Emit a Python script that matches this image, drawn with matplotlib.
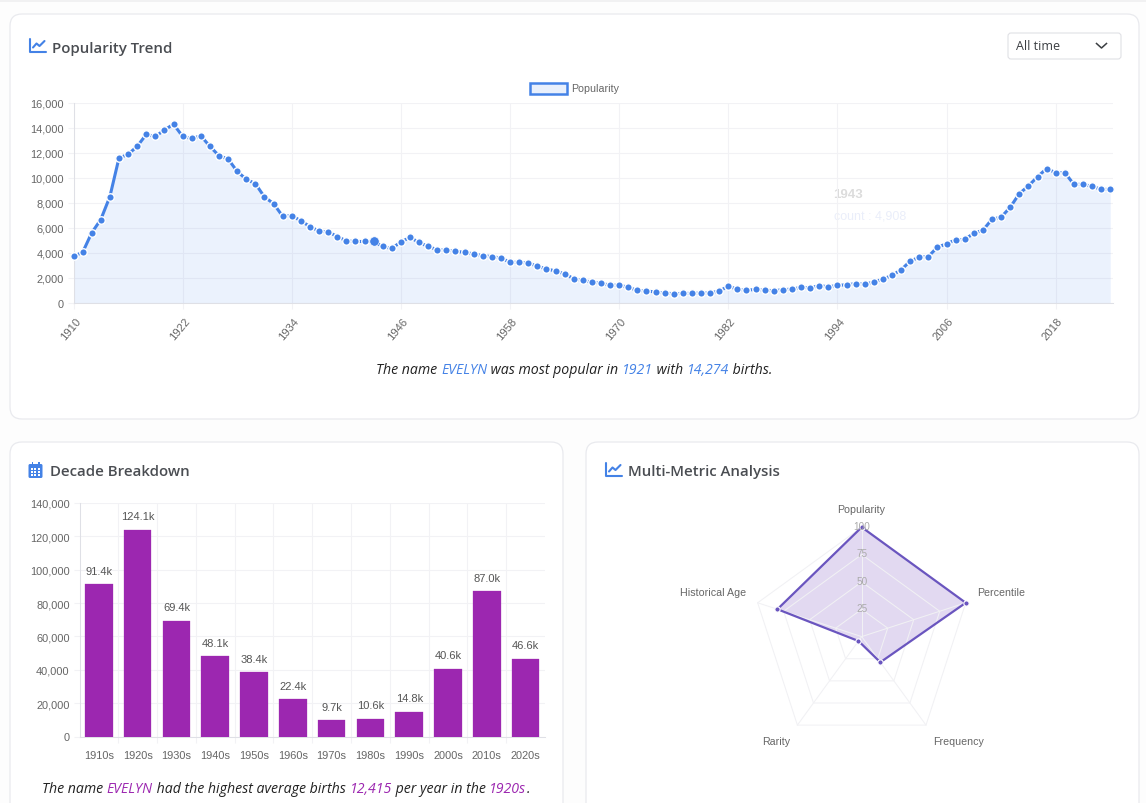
import numpy as np
import matplotlib
matplotlib.use("Agg")
import matplotlib.pyplot as plt
from matplotlib.patches import FancyBboxPatch, Rectangle
from matplotlib.transforms import ScaledTranslation

W, H = 1146, 804

# datos
years = list(range(1910, 2025))
popularity = [
    3740, 4030, 5600, 6660, 8490, 11570, 11860, 12500, 13450, 13290,
    13800, 14274, 13290, 13130, 13340, 12500, 11750, 11490, 10500, 9870,
    9520, 8460, 7930, 6920, 6980, 6550, 6100, 5730, 5680, 5300,
    4960, 4910, 4910, 4908, 4510, 4350, 4880, 5230, 4830, 4510,
    4250, 4220, 4140, 4030, 3930, 3770, 3710, 3580, 3260, 3240,
    3210, 2920, 2730, 2550, 2330, 1940, 1800, 1670, 1590, 1410,
    1430, 1250, 1010, 960, 880, 800, 740, 770, 770, 800,
    800, 960, 1330, 1110, 1010, 1090, 1030, 980, 1060, 1110,
    1250, 1220, 1380, 1300, 1400, 1460, 1540, 1510, 1670, 1910,
    2200, 2650, 3340, 3660, 3710, 4460, 4720, 5040, 5070, 5570,
    5810, 6690, 6850, 7640, 8730, 9340, 10080, 10720, 10400, 10400,
    9470, 9470, 9310, 9070, 9070,
]
highlight_year = 1943
year_ticks = list(range(1910, 2025, 12))

decades = ["1910s", "1920s", "1930s", "1940s", "1950s", "1960s",
           "1970s", "1980s", "1990s", "2000s", "2010s", "2020s"]
decade_births = [91400, 124100, 69400, 48100, 38400, 22400,
                 9700, 10600, 14800, 40600, 87000, 46600]
decade_labels = ["91.4k", "124.1k", "69.4k", "48.1k", "38.4k", "22.4k",
                 "9.7k", "10.6k", "14.8k", "40.6k", "87.0k", "46.6k"]

metrics = ["Popularity", "Percentile", "Frequency", "Rarity", "Historical Age"]
metric_values = [100, 100, 29, 5, 81]
radar_rings = [25, 50, 75, 100]

BLUE = "#4482E6"
PURPLE = "#9C27B0"
VIOLET = "#6A55BF"
GRID = "#f2f2f5"
AXIS = "#dfe0e6"
TICK = "#666666"
TITLE = "#4a4d52"
TICK_FONT = "Liberation Sans"
UI_FONT = "Open Sans"


def ax_px(fig, left, top, right, bottom, **kw):
    return fig.add_axes([left / W, 1 - bottom / H, (right - left) / W, (bottom - top) / H], **kw)


def card(ax, left, top, right, bottom):
    ax.add_patch(FancyBboxPatch((left + 12, top + 12), right - left - 24, bottom - top - 24,
                                boxstyle="round,pad=12,rounding_size=12",
                                fc="white", ec="#e9eaee", lw=0.9))


def colored_line(fig, ax, cx, y, parts, size=10.2):
    # junta trozos de texto de colores y los centra en cx
    r = fig.canvas.get_renderer()
    items = []
    total = 0
    for txt, col in parts:
        t = ax.text(0, y, txt, color=col, fontsize=size, style="italic",
                    family=UI_FONT, va="center", ha="left")
        sp = ax.text(0, y, "a" + txt + "a", fontsize=size, style="italic", family=UI_FONT)
        sa = ax.text(0, y, "aa", fontsize=size, style="italic", family=UI_FONT)
        w = sp.get_window_extent(r).width - sa.get_window_extent(r).width
        sp.remove()
        sa.remove()
        items.append((t, w))
        total += w
    x = cx - total / 2
    for t, w in items:
        t.set_x(x)
        x += w


def line_icon(ax, x, y, col=BLUE):
    ax.plot([x, x, x + 16], [y, y + 13, y + 13], color=col, lw=1.5, solid_capstyle="round")
    ax.plot([x + 3.5, x + 7, x + 10, x + 15], [y + 9, y + 5, y + 7.5, y + 2.5],
            color=col, lw=1.5, solid_joinstyle="round", solid_capstyle="round")


def calendar_icon(ax, x, y, col=BLUE):
    ax.add_patch(FancyBboxPatch((x + 1, y + 3), 12, 12, boxstyle="round,pad=1,rounding_size=1.5",
                                fc=col, ec="none"))
    ax.add_patch(Rectangle((x + 3, y - 0.5), 1.6, 3.5, fc=col, ec="none"))
    ax.add_patch(Rectangle((x + 9.4, y - 0.5), 1.6, 3.5, fc=col, ec="none"))
    for i in range(3):
        for j in range(3):
            ax.add_patch(Rectangle((x + 2 + i * 3.9, y + 6 + j * 3), 2, 1.7, fc="white", ec="none"))


fig = plt.figure(figsize=(W / 100, H / 100), dpi=100, facecolor="#fdfdfd")

# fondo con tarjetas, en coordenadas de pixel
bg = fig.add_axes([0, 0, 1, 1], zorder=0)
bg.set_xlim(0, W)
bg.set_ylim(H, 0)
bg.axis("off")
bg.add_patch(Rectangle((0, 0), W, 2.5, fc="#f1f1f2", ec="none"))
card(bg, 10, 15, 1139, 420)
card(bg, 10, 443, 563, 840)
card(bg, 586, 443, 1139, 840)

line_icon(bg, 29.5, 39.5)
bg.text(51.5, 48.5, "Popularity Trend", fontsize=10.8, family=UI_FONT, weight=600, color=TITLE, va="center")
calendar_icon(bg, 28.5, 463)
bg.text(49.5, 472.5, "Decade Breakdown", fontsize=10.8, family=UI_FONT, weight=600, color=TITLE, va="center")
line_icon(bg, 605.5, 463.5)
bg.text(627.5, 472.5, "Multi-Metric Analysis", fontsize=10.8, family=UI_FONT, weight=600, color=TITLE, va="center")

# selector
bg.add_patch(FancyBboxPatch((1011, 37), 107, 20, boxstyle="round,pad=3,rounding_size=3",
                            fc="white", ec="#e0e1e5", lw=0.8))
bg.text(1016, 46.5, "All time", fontsize=9, family=UI_FONT, color="#3b3e42", va="center")
bg.plot([1096.5, 1101.5, 1106.5], [44.5, 49, 44.5], color="#3b3e42", lw=1.1)

# leyenda
bg.add_patch(Rectangle((529.5, 83.5), 37, 11, fc="#e9f0fc", ec=BLUE, lw=1.8))
bg.text(571.5, 88.5, "Popularity", fontsize=7.7, family=TICK_FONT, color=TICK, va="center")

# --- tendencia ---
ax1 = ax_px(fig, 73.5, 103.5, 1113, 304, zorder=1)
ax1.patch.set_alpha(0)
ax1.fill_between(years, popularity, 0, color="#4285F4", alpha=0.1, lw=0)
ax1.plot(years, popularity, color=BLUE, lw=2.2, marker="o", ms=5.4, mfc=BLUE, mec="white", mew=1.0,
         clip_on=False, zorder=3)
i_high = years.index(highlight_year)
ax1.plot([years[i_high]], [popularity[i_high]], marker="o", ms=6.8, color=BLUE, mec="white", mew=0.5,
         zorder=4)
ax1.set_xlim(1910, 2024.3)
ax1.set_ylim(0, 16000)
ax1.set_yticks(range(0, 16001, 2000))
ax1.set_yticklabels([f"{v:,}" for v in range(0, 16001, 2000)])
ax1.set_xticks(year_ticks)
ax1.set_xticklabels(year_ticks, rotation=50, ha="center", va="top")
ax1.grid(True, color=GRID, lw=0.75)
ax1.set_axisbelow(True)
for s in ["top", "right"]:
    ax1.spines[s].set_visible(False)
for s in ["left", "bottom"]:
    ax1.spines[s].set_color(AXIS)
    ax1.spines[s].set_linewidth(0.75)
ax1.tick_params(axis="y", length=4, width=0.75, color=GRID, labelsize=7.9, labelcolor=TICK, pad=3)
ax1.tick_params(axis="x", length=4, width=0.75, color=GRID, labelsize=8.1, labelcolor=TICK, pad=5)
shift = ScaledTranslation(-3 / 100, 0, fig.dpi_scale_trans)
for lab in ax1.get_xticklabels() + ax1.get_yticklabels():
    lab.set_family(TICK_FONT)
for lab in ax1.get_xticklabels():
    lab.set_transform(lab.get_transform() + shift)

# tooltip que se esta desvaneciendo
bg.text(833.5, 195.5, "1943", fontsize=9.5, weight="bold", family=TICK_FONT, color="#dcdcdc", va="center", zorder=5)
bg.text(833.5, 216.5, "count : 4,908", fontsize=9, family=TICK_FONT, color="#eaeefa", va="center", zorder=5)

colored_line(fig, bg, 574.5, 370.5, [("The name ", "#222222"), ("EVELYN", BLUE),
                                     (" was most popular in ", "#222222"), ("1921", BLUE),
                                     (" with ", "#222222"), ("14,274", BLUE), (" births.", "#222222")])

# --- decadas ---
ax2 = ax_px(fig, 79.5, 504, 545, 737.5, zorder=1)
ax2.patch.set_alpha(0)
x_pos = np.arange(len(decades))
ax2.bar(x_pos, decade_births, width=0.71, color=PURPLE, edgecolor=PURPLE, lw=0.2, joinstyle="round", zorder=3)
for x, v, lab in zip(x_pos, decade_births, decade_labels):
    ax2.annotate(lab, (x, v), xytext=(0, 6), textcoords="offset points", ha="center", va="bottom",
                 fontsize=8, family=TICK_FONT, color="#555555", zorder=4)
ax2.set_xlim(-0.5, len(decades) - 0.5)
ax2.set_ylim(0, 140000)
ax2.set_yticks(range(0, 140001, 20000))
ax2.set_yticklabels([f"{v:,}" for v in range(0, 140001, 20000)])
ax2.set_xticks(x_pos)
ax2.set_xticklabels(decades)
ax2.set_xticks(x_pos[:-1] + 0.5, minor=True)
ax2.grid(True, axis="y", color=GRID, lw=0.75)
ax2.grid(True, axis="x", which="minor", color=GRID, lw=0.75)
ax2.set_axisbelow(True)
for s in ["top", "right"]:
    ax2.spines[s].set_visible(False)
for s in ["left", "bottom"]:
    ax2.spines[s].set_color(AXIS)
    ax2.spines[s].set_linewidth(0.75)
ax2.tick_params(axis="y", length=4, width=0.75, color=GRID, labelsize=7.9, labelcolor=TICK, pad=3)
ax2.tick_params(axis="x", length=0, labelsize=7.9, labelcolor=TICK, pad=10)
ax2.tick_params(axis="x", which="minor", length=4, width=0.75, color=GRID)
for lab in ax2.get_xticklabels() + ax2.get_yticklabels():
    lab.set_family(TICK_FONT)

colored_line(fig, bg, 286, 789.5, [("The name ", "#222222"), ("EVELYN", PURPLE),
                                   (" had the highest average births ", "#222222"), ("12,415", PURPLE),
                                   (" per year in the ", "#222222"), ("1920s", PURPLE), (".", "#222222")])

# --- radar ---
R = 109.4
cx, cy = 861.7, 637.6
ax3 = ax_px(fig, cx - R, cy - R, cx + R, cy + R, projection="polar", zorder=1)
ax3.patch.set_alpha(0)
ax3.set_theta_zero_location("N")
ax3.set_theta_direction(-1)
ax3.set_ylim(0, 100)
ax3.grid(False)
ax3.spines["polar"].set_visible(False)
ax3.set_xticks([])
ax3.set_yticks([])
angles = np.linspace(0, 2 * np.pi, len(metrics), endpoint=False)
closed_angles = np.append(angles, angles[0])
for ring in radar_rings:
    ax3.plot(closed_angles, [ring] * len(closed_angles), color="#f1f1f4", lw=0.75, clip_on=False)
for a in angles:
    ax3.plot([a, a], [0, 100], color="#f1f1f4", lw=0.75, clip_on=False)
closed_vals = metric_values + metric_values[:1]
ax3.fill(closed_angles, closed_vals, color="#673AB7", alpha=0.19, lw=0, clip_on=False)
ax3.plot(closed_angles, closed_vals, color=VIOLET, lw=1.6, clip_on=False)
ax3.plot(angles, metric_values, ls="", marker="o", ms=3.8, mfc=VIOLET, mec="white", mew=0.8,
         clip_on=False, zorder=5)
for ring in radar_rings:
    ax3.annotate(str(ring), (0, ring), xytext=(0, 1), textcoords="offset points", fontsize=7.2,
                 family=TICK_FONT, color="#aaaaaa", ha="center", va="center", zorder=6,
                 annotation_clip=False)

bg.text(861.5, 510, metrics[0], fontsize=7.7, family=TICK_FONT, color=TICK, ha="center", va="center")
bg.text(977, 593, metrics[1], fontsize=7.7, family=TICK_FONT, color=TICK, ha="left", va="center")
bg.text(958.5, 742, metrics[2], fontsize=7.7, family=TICK_FONT, color=TICK, ha="center", va="center")
bg.text(776.5, 742, metrics[3], fontsize=7.7, family=TICK_FONT, color=TICK, ha="center", va="center")
bg.text(746.5, 593, metrics[4], fontsize=7.7, family=TICK_FONT, color=TICK, ha="right", va="center")

fig.savefig("out.png", dpi=100)
